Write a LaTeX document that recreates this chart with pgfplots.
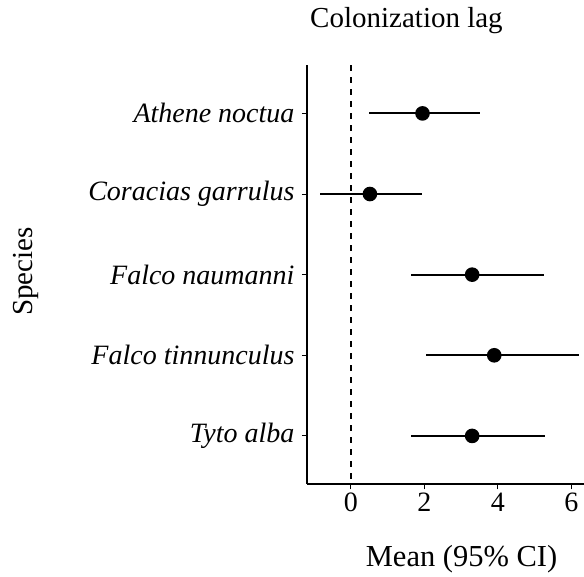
\documentclass[border=0pt]{standalone}
\usepackage{fontspec}
\setmainfont{Liberation Serif}
\usepackage{pgfplots}
\usepackage{pgfplotstable}
\pgfplotsset{compat=1.18}
\pgfplotstableread{
y m lo hi
1 1.95 0.50 3.52
2 0.52 -0.85 1.94
3 3.30 1.65 5.24
4 3.90 2.04 6.21
5 3.30 1.64 5.29
}\cidata
\begin{document}
\begin{tikzpicture}
\useasboundingbox (0,0) rectangle (584pt,576pt);
\begin{axis}[
  at={(307pt,91.7pt)}, anchor=south west,
  scale only axis, width=277pt, height=419.3pt,
  xmin=-1.19, xmax=6.34, ymin=0.4, ymax=5.6, y dir=reverse,
  axis x line*=bottom, axis y line*=left,
  axis line style={-, line width=1.8pt, black},
  xtick={0,2,4,6}, ytick={1,2,3,4,5},
  yticklabels={\textit{Athene noctua},\textit{Coracias garrulus},\textit{Falco naumanni},\textit{Falco tinnunculus},\textit{Tyto alba}},
  tick align=outside, major tick length=5pt,
  tick style={line width=1pt, black},
  /pgf/number format/assume math mode=true,
  font=\fontsize{28}{32}\selectfont,
  ticklabel style={font=\fontsize{28}{32}\selectfont},
  yticklabel style={xshift=-4pt},
  title={Colonization lag},
  title style={font=\fontsize{29}{33}\selectfont, at={(axis description cs:0.011,1.0763)}, anchor=base west, inner sep=0pt},
  xlabel={Mean (95\% CI)},
  xlabel style={font=\fontsize{30.5}{34}\selectfont, at={(axis description cs:0.558,-0.1956)}, anchor=base, inner sep=0pt},
  ylabel={Species},
  ylabel style={font=\fontsize{29}{33}\selectfont, at={(axis description cs:-1.0144,0.5075)}, anchor=center},
  clip=false,
]
\addplot[black, line width=1.8pt, dash pattern=on 6pt off 6pt] coordinates {(0,0.4) (0,5.6)};
\addplot[black, only marks, mark=*, mark size=6.3pt, line width=2pt,
  error bars/.cd, x dir=both, x explicit, error mark=none,
  error bar style={line width=2pt, black}]
  table[x=m, y=y, x error plus expr=\thisrow{hi}-\thisrow{m}, x error minus expr=\thisrow{m}-\thisrow{lo}] {\cidata};
\end{axis}
\end{tikzpicture}
\end{document}
